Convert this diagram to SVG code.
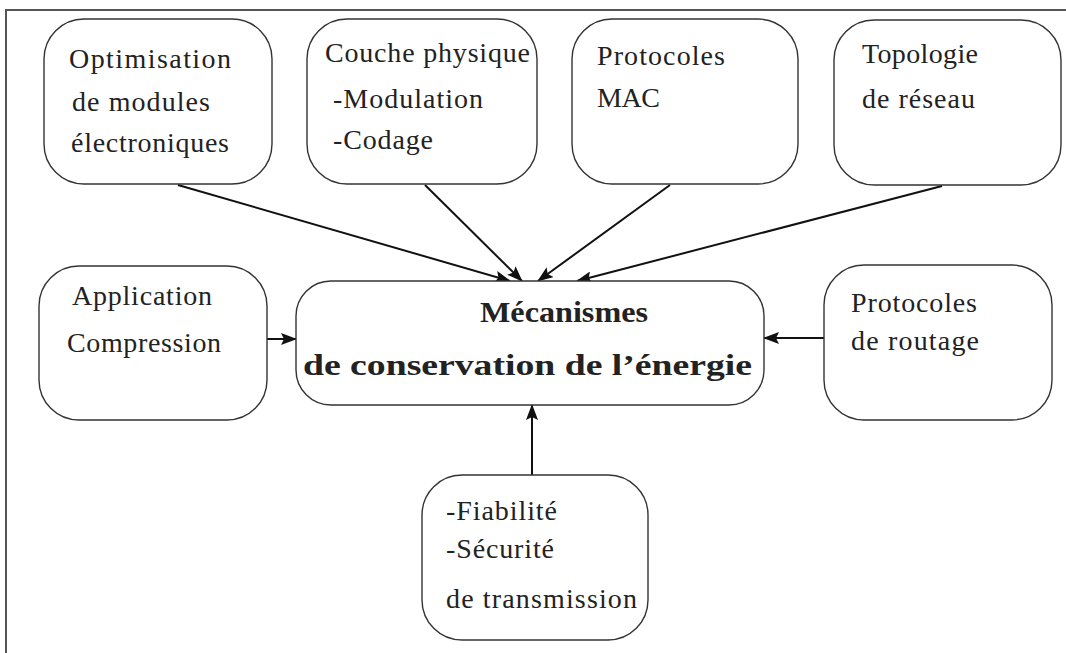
<svg xmlns="http://www.w3.org/2000/svg" width="1066" height="653" viewBox="0 0 1066 653">
<style>
.box{fill:#fff;stroke:#333;stroke-width:1.4}
.t{font-family:"Liberation Serif","DejaVu Serif",serif;font-size:28px;fill:#222}
.b{font-weight:bold;font-size:29px}
.c{stroke:#111;stroke-width:2;fill:none;marker-end:url(#ah)}
.frame{stroke:#555;stroke-width:2;fill:none}
</style>
<defs>
<marker id="ah" markerUnits="userSpaceOnUse" markerWidth="16" markerHeight="12" viewBox="0 0 16 12" refX="15" refY="6" orient="auto">
<path d="M0,0 L16,6 L0,12 L3,6 Z" fill="#111"/>
</marker>
</defs>
<rect width="1066" height="653" fill="#fff"/>
<path class="frame" d="M6,653 L6,10 L1066,10"/>
<g id="connectors">
<path class="c" d="M178,185 L510,281"/>
<path class="c" d="M425,185 L522,281"/>
<path class="c" d="M670,185 L538,281"/>
<path class="c" d="M942,186 L577,281"/>
<path class="c" d="M267,339 L296,339"/>
<path class="c" d="M824,338 L764,338"/>
<path class="c" d="M532,475 L532,405"/>
</g>
<g id="n-optimisation">
<rect class="box" x="44" y="19" width="228" height="165" rx="40"/>
<text class="t" x="69" y="68" textLength="162" lengthAdjust="spacing">Optimisation</text>
<text class="t" x="72" y="111" textLength="138" lengthAdjust="spacing">de modules</text>
<text class="t" x="71" y="152" textLength="158" lengthAdjust="spacing">électroniques</text>
</g>
<g id="n-physique">
<rect class="box" x="307" y="19" width="230" height="165" rx="40"/>
<text class="t" x="325" y="62" textLength="205" lengthAdjust="spacing">Couche physique</text>
<text class="t" x="333" y="108" textLength="150" lengthAdjust="spacing">-Modulation</text>
<text class="t" x="333" y="149" textLength="100" lengthAdjust="spacing">-Codage</text>
</g>
<g id="n-mac">
<rect class="box" x="572" y="19" width="226" height="165" rx="40"/>
<text class="t" x="597" y="65" textLength="128" lengthAdjust="spacing">Protocoles</text>
<text class="t" x="597" y="107" textLength="63" lengthAdjust="spacing">MAC</text>
</g>
<g id="n-topologie">
<rect class="box" x="834" y="20" width="227" height="165" rx="40"/>
<text class="t" x="862" y="63" textLength="116" lengthAdjust="spacing">Topologie</text>
<text class="t" x="862" y="108" textLength="113" lengthAdjust="spacing">de réseau</text>
</g>
<g id="n-application">
<rect class="box" x="39" y="266" width="228" height="154" rx="40"/>
<text class="t" x="72" y="305" textLength="140" lengthAdjust="spacing">Application</text>
<text class="t" x="67" y="352" textLength="154" lengthAdjust="spacing">Compression</text>
</g>
<g id="n-mecanismes">
<rect class="box" x="296" y="281" width="468" height="124" rx="35"/>
<text class="t b" x="480" y="322" textLength="168" lengthAdjust="spacingAndGlyphs">Mécanismes</text>
<text class="t b" x="303" y="375" textLength="449" lengthAdjust="spacingAndGlyphs">de conservation de l’énergie</text>
</g>
<g id="n-routage">
<rect class="box" x="824" y="265" width="228" height="155" rx="40"/>
<text class="t" x="851" y="312" textLength="126" lengthAdjust="spacing">Protocoles</text>
<text class="t" x="851" y="350" textLength="128" lengthAdjust="spacing">de routage</text>
</g>
<g id="n-fiabilite">
<rect class="box" x="422" y="475" width="226" height="165" rx="40"/>
<text class="t" x="446" y="520" textLength="111" lengthAdjust="spacing">-Fiabilité</text>
<text class="t" x="446" y="558" textLength="108" lengthAdjust="spacing">-Sécurité</text>
<text class="t" x="446" y="608" textLength="191" lengthAdjust="spacing">de transmission</text>
</g>
</svg>
